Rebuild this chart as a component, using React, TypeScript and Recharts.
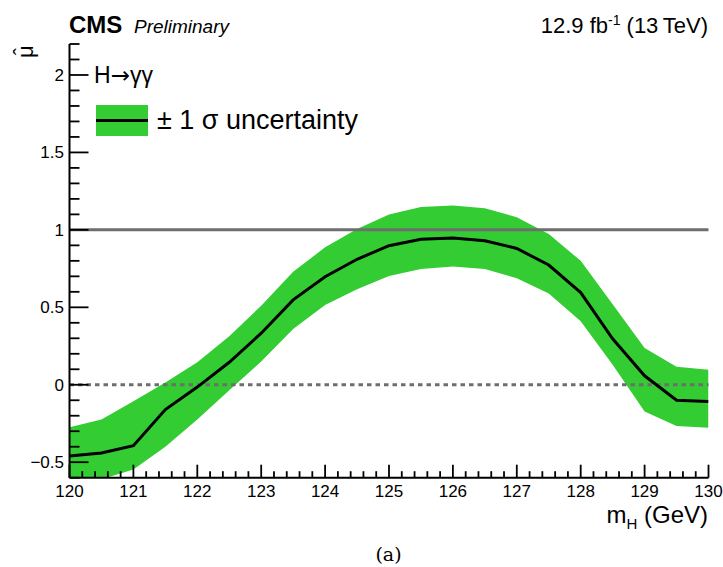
import React from "react"
import {
  ComposedChart,
  Area,
  Line,
  XAxis,
  YAxis,
  ReferenceLine,
} from "recharts"

// m_H scan points (GeV)
const masses = [
  120, 120.5, 121, 121.5, 122, 122.5, 123, 123.5, 124, 124.5, 125,
  125.5, 126, 126.5, 127, 127.5, 128, 128.5, 129, 129.5, 130,
]

// best-fit signal strength
const muHat = [
  -0.46, -0.44, -0.393, -0.16, -0.015, 0.145, 0.333, 0.548, 0.697, 0.81, 0.898,
  0.94, 0.948, 0.93, 0.88, 0.773, 0.595, 0.297, 0.058, -0.1, -0.108,
]

// +-1 sigma band
const bandLow = [
  -0.65, -0.61, -0.547, -0.4, -0.225, -0.035, 0.15, 0.36, 0.515, 0.617, 0.703,
  0.747, 0.764, 0.747, 0.688, 0.589, 0.41, 0.13, -0.173, -0.266, -0.277,
]
const bandHigh = [
  -0.275, -0.225, -0.107, 0.015, 0.145, 0.314, 0.51, 0.73, 0.887, 1.006, 1.1,
  1.147, 1.158, 1.14, 1.082, 0.974, 0.8, 0.52, 0.238, 0.117, 0.097,
]

// axis ticks
const xMajor = [120, 121, 122, 123, 124, 125, 126, 127, 128, 129, 130]
const yMajor = [-0.5, 0, 0.5, 1, 1.5, 2]
const yLabels = ["\u22120.5", "0", "0.5", "1", "1.5", "2"]

const xTicks: number[] = []
for (let i = 0; i <= 50; i++) xTicks.push(120 + i * 0.2)
const yTicks: number[] = []
for (let i = 0; i <= 28; i++) yTicks.push(-0.6 + i * 0.1)

const data = masses.map((m, i) => ({
  m,
  mu: muHat[i],
  band: [bandLow[i], bandHigh[i]],
}))

const FONT = "'Liberation Sans', Arial, Helvetica, sans-serif"
const GREEN = "#33cc33"
const GREY = "#6e6e6e"

const isMajorX = (v: number) => xMajor.some((t) => Math.abs(t - v) < 1e-6)
const majorYIndex = (v: number) => yMajor.findIndex((t) => Math.abs(t - v) < 1e-6)

function BottomTick(props: any) {
  const { x, y, payload } = props
  const major = isMajorX(payload.value)
  return (
    <g>
      <line x1={x} x2={x} y1={y} y2={y - (major ? 13 : 6.5)} stroke="#000" strokeWidth={1.8} />
      {major && (
        <text x={x} y={y + 19.5} textAnchor="middle" fontFamily={FONT} fontSize={17} fill="#000">
          {Math.round(payload.value)}
        </text>
      )}
    </g>
  )
}

function TopTick(props: any) {
  const { x, y, payload } = props
  const major = isMajorX(payload.value)
  return <line x1={x} x2={x} y1={y} y2={y + (major ? 12.5 : 6)} stroke="#000" strokeWidth={1.8} />
}

function LeftTick(props: any) {
  const { x, y, payload } = props
  const idx = majorYIndex(payload.value)
  const major = idx >= 0
  return (
    <g>
      <line x1={x} x2={x + (major ? 19 : 10)} y1={y} y2={y} stroke="#000" strokeWidth={1.8} />
      {major && (
        <text x={x - 5.5} y={y + 6} textAnchor="end" fontFamily={FONT} fontSize={17} fill="#000">
          {yLabels[idx]}
        </text>
      )}
    </g>
  )
}

function RightTick(props: any) {
  const { x, y, payload } = props
  const major = majorYIndex(payload.value) >= 0
  return <line x1={x} x2={x - (major ? 18 : 9)} y1={y} y2={y} stroke="#000" strokeWidth={1.8} />
}

export default function App() {
  return (
    <div style={{ position: "absolute", left: 0, top: 0, width: 723, height: 567, background: "#fff" }}>
      <ComposedChart
        width={723}
        height={567}
        data={data}
        margin={{ top: 44, right: 14.5, bottom: 59.3, left: 9.5 }}
      >
        <XAxis
          xAxisId="b"
          dataKey="m"
          type="number"
          domain={[120, 130]}
          allowDataOverflow
          ticks={xTicks}
          interval={0}
          height={30}
          tickSize={0}
          tickMargin={0}
          tickLine={false}
          axisLine={{ stroke: "#000", strokeWidth: 2 }}
          tick={BottomTick}
        />
        <XAxis
          xAxisId="t"
          orientation="top"
          type="number"
          domain={[120, 130]}
          allowDataOverflow
          ticks={xTicks}
          interval={0}
          height={0}
          tickSize={0}
          tickMargin={0}
          tickLine={false}
          axisLine={{ stroke: "#000", strokeWidth: 2 }}
          tick={TopTick}
        />
        <YAxis
          yAxisId="l"
          type="number"
          domain={[-0.6, 2.2]}
          allowDataOverflow
          ticks={yTicks}
          interval={0}
          width={60}
          tickSize={0}
          tickMargin={0}
          tickLine={false}
          axisLine={{ stroke: "#000", strokeWidth: 2 }}
          tick={LeftTick}
        />
        <YAxis
          yAxisId="r"
          orientation="right"
          type="number"
          domain={[-0.6, 2.2]}
          allowDataOverflow
          ticks={yTicks}
          interval={0}
          width={0}
          tickSize={0}
          tickMargin={0}
          tickLine={false}
          axisLine={{ stroke: "#000", strokeWidth: 2 }}
          tick={RightTick}
        />
        <Area
          xAxisId="b"
          yAxisId="l"
          type="linear"
          dataKey="band"
          fill={GREEN}
          fillOpacity={1}
          stroke="none"
          isAnimationActive={false}
        />
        <ReferenceLine xAxisId="b" yAxisId="l" y={1} stroke={GREY} strokeWidth={3} />
        <ReferenceLine xAxisId="b" yAxisId="l" y={0} stroke={GREY} strokeWidth={3} strokeDasharray="4.5 4" />
        <Line
          xAxisId="b"
          yAxisId="l"
          type="linear"
          dataKey="mu"
          stroke="#000"
          strokeWidth={3}
          dot={false}
          isAnimationActive={false}
        />
      </ComposedChart>
      <svg
        width={723}
        height={567}
        style={{ position: "absolute", left: 0, top: 0, pointerEvents: "none" }}
      >
        <text x={69} y={33} fontFamily={FONT} fontWeight="bold" fontSize={24} fill="#000">
          CMS
        </text>
        <text x={134} y={33} fontFamily={FONT} fontStyle="italic" fontSize={19} fill="#000">
          Preliminary
        </text>
        <text x={708} y={33} textAnchor="end" fontFamily={FONT} fontSize={22} fill="#000">
          12.9 fb
          <tspan fontSize={14} dy={-8}>-1</tspan>
          <tspan dy={8}>{" (13\u2009TeV)"}</tspan>
        </text>
        {/* y title: mu with hat, rotated */}
        <g transform="translate(33,58) rotate(-90)">
          <text x={0} y={0} fontFamily={FONT} fontSize={22} fill="#000">
            {"\u03bc"}
          </text>
          <text x={6.4} y={-4.2} textAnchor="middle" fontFamily={FONT} fontSize={22} fill="#000">
            {"\u02c6"}
          </text>
        </g>
        <text x={94} y={83} fontFamily={FONT} fontSize={23} fill="#000">
          H
          <tspan fontFamily="'DejaVu Sans', sans-serif">{"\u2192"}</tspan>
          {"\u03b3\u03b3"}
        </text>
        <rect x={96} y={105} width={52} height={31} fill={GREEN} />
        <line x1={96} x2={148} y1={120.5} y2={120.5} stroke="#000" strokeWidth={3} />
        <text x={157} y={129} fontFamily={FONT} fontSize={27} fill="#000">
          {"\u00b1 1 \u03c3 uncertainty"}
        </text>
        <text x={708} y={523} textAnchor="end" fontFamily={FONT} fontSize={24} fill="#000">
          m
          <tspan fontSize={15} dy={6}>H</tspan>
          <tspan dy={-6}>{" (GeV)"}</tspan>
        </text>
        <text x={388.5} y={561} textAnchor="middle" fontFamily="'DejaVu Serif', serif" fontSize={19} fill="#000">
          (a)
        </text>
      </svg>
    </div>
  )
}
